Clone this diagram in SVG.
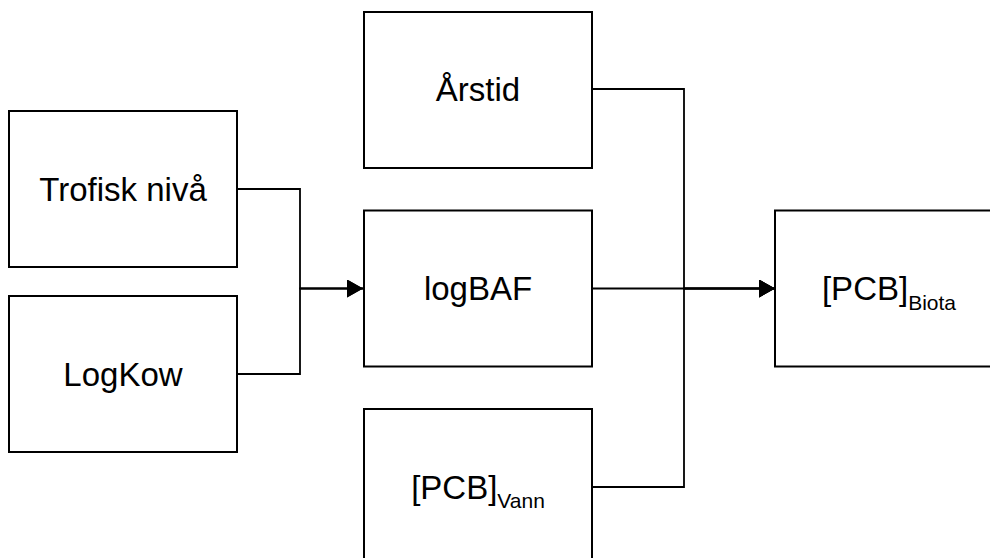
<svg xmlns="http://www.w3.org/2000/svg" width="990" height="558" viewBox="0 0 990 558">
  <style>
    .box { fill: #ffffff; stroke: #000000; stroke-width: 2; }
    .lbl { font-family: "Liberation Sans", Arial, sans-serif; font-size: 33px; fill: #000000; text-anchor: middle; }
    .sub { font-size: 21px; }
    .wire { fill: none; stroke: #000000; stroke-width: 1.8; }
  </style>
  <defs>
    <marker id="arrow" markerUnits="userSpaceOnUse" markerWidth="18" markerHeight="20" refX="16" refY="9" orient="auto">
      <path d="M0,0 L16,9 L0,18 Z" fill="#000000"/>
    </marker>
  </defs>

  <rect width="990" height="558" fill="#ffffff"/>

  <!-- connectors -->
  <g id="connectors">
    <path class="wire" d="M237,189 H300 V288.5 H363" marker-end="url(#arrow)"/>
    <path class="wire" d="M237,374 H300 V288.5 H363" marker-end="url(#arrow)"/>
    <path class="wire" d="M592,89 H684 V288.5 H775" marker-end="url(#arrow)"/>
    <path class="wire" d="M592,288.5 H775" marker-end="url(#arrow)"/>
    <path class="wire" d="M592,487 H684 V288.5 H775" marker-end="url(#arrow)"/>
  </g>

  <!-- nodes -->
  <g id="trofisk">
    <rect class="box" x="9" y="111" width="228" height="156"/>
    <text class="lbl" x="123" y="200.5">Trofisk nivå</text>
  </g>
  <g id="logkow">
    <rect class="box" x="9" y="296" width="228" height="156"/>
    <text class="lbl" x="123" y="385.5">LogKow</text>
  </g>
  <g id="arstid">
    <rect class="box" x="364" y="12" width="228" height="156"/>
    <text class="lbl" x="478" y="101">Årstid</text>
  </g>
  <g id="logbaf">
    <rect class="box" x="364" y="210.5" width="228" height="156"/>
    <text class="lbl" x="478" y="300">logBAF</text>
  </g>
  <g id="pcb-vann">
    <rect class="box" x="364" y="409" width="228" height="156"/>
    <text class="lbl" x="478" y="498.5">[PCB]<tspan class="sub" dy="9.5">Vann</tspan></text>
  </g>
  <g id="pcb-biota">
    <rect class="box" x="775" y="210.5" width="228" height="156"/>
    <text class="lbl" x="889" y="300">[PCB]<tspan class="sub" dy="9.5">Biota</tspan></text>
  </g>
</svg>
